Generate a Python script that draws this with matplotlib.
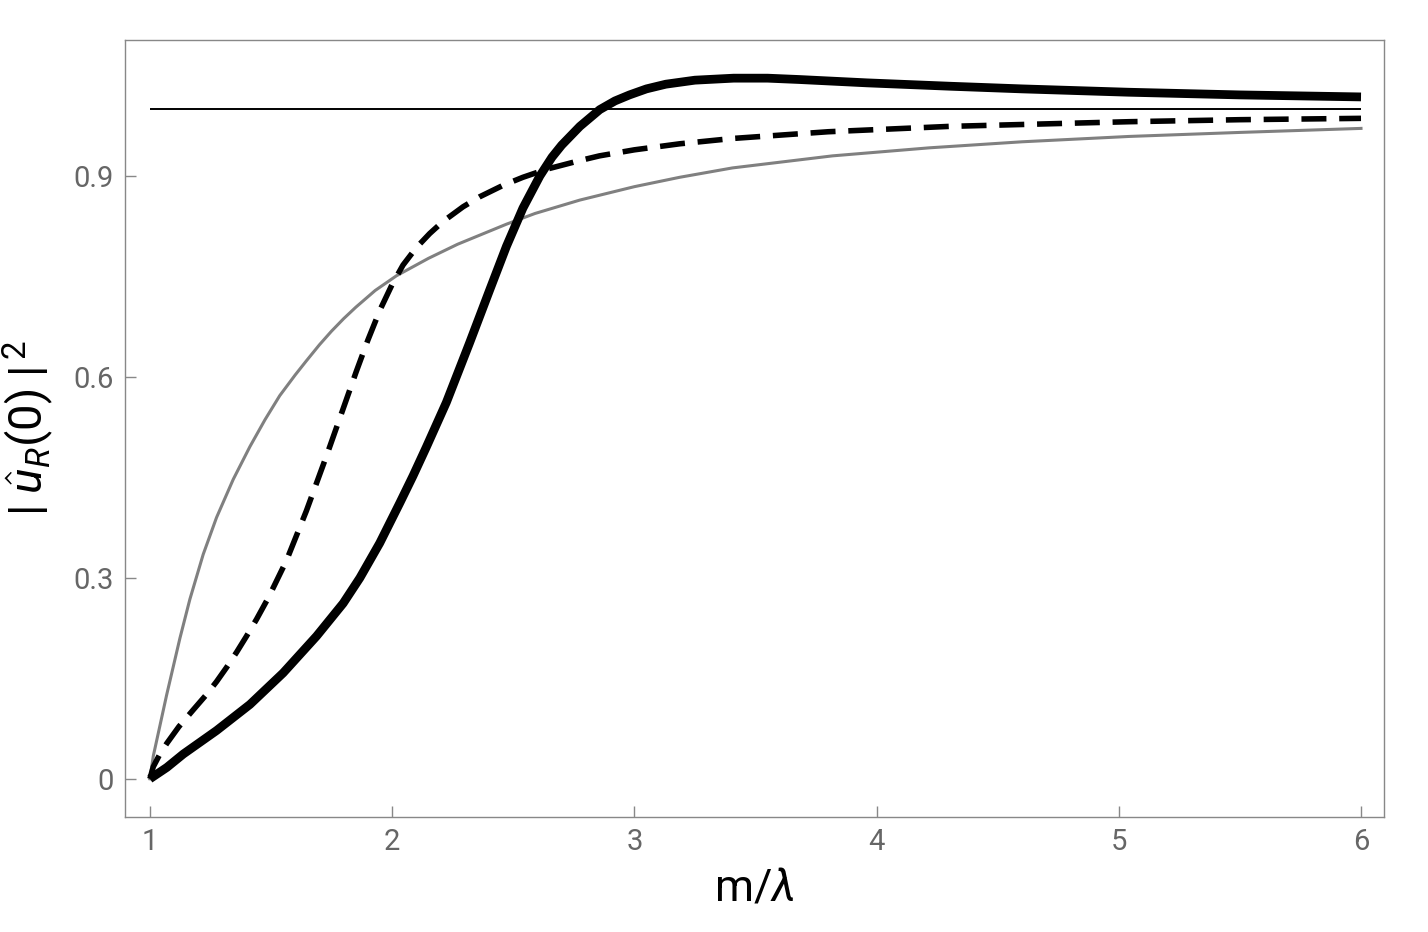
import matplotlib
matplotlib.use("Agg")
import matplotlib.pyplot as plt

# ---- data ----
gray_x = [1.0, 1.014, 1.069, 1.124, 1.165, 1.22, 1.275, 1.344, 1.413, 1.475, 1.536, 1.60, 1.646,
          1.70, 1.749, 1.80, 1.85, 1.93, 2.018, 2.15, 2.27, 2.472, 2.59, 2.775, 3.0, 3.187, 3.405,
          3.818, 4.218, 4.6, 5.043, 5.5, 6.0]
gray_y = [0.0, 0.034, 0.125, 0.210, 0.268, 0.335, 0.390, 0.447, 0.496, 0.536, 0.572, 0.603, 0.624,
          0.648, 0.668, 0.687, 0.704, 0.729, 0.751, 0.777, 0.798, 0.828, 0.844, 0.864, 0.884, 0.898, 0.912,
          0.930, 0.942, 0.951, 0.959, 0.965, 0.971]

dash_x = [1.0, 1.014, 1.04, 1.07, 1.12, 1.179, 1.234, 1.275, 1.316, 1.358, 1.399, 1.44, 1.49,
          1.564, 1.646, 1.729, 1.811, 1.852, 1.90, 1.95, 2.0, 2.045, 2.10, 2.155, 2.21, 2.293, 2.362,
          2.458, 2.54, 2.637, 2.775, 2.856, 3.0, 3.187, 3.407, 3.8, 4.3, 5.043, 5.5, 6.0]
dash_y = [0.0, 0.018, 0.036, 0.053, 0.078, 0.103, 0.126, 0.145, 0.166, 0.189, 0.213, 0.238, 0.271,
          0.326, 0.400, 0.482, 0.566, 0.608, 0.655, 0.700, 0.738, 0.767, 0.793, 0.814, 0.832, 0.854, 0.869,
          0.886, 0.898, 0.910, 0.923, 0.930, 0.939, 0.948, 0.956, 0.966, 0.974, 0.981, 0.984, 0.986]

thick_x = [1.0, 1.07, 1.138, 1.275, 1.413, 1.55, 1.688, 1.798, 1.867, 1.949, 2.032, 2.086, 2.141,
           2.224, 2.32, 2.403, 2.472, 2.54, 2.61, 2.66, 2.70, 2.775, 2.857, 2.92, 2.98, 3.05, 3.13,
           3.25, 3.41, 3.55, 3.68, 3.96, 4.3, 4.6, 5.04, 5.5, 6.0]
thick_y = [0.0, 0.017, 0.037, 0.072, 0.111, 0.158, 0.213, 0.262, 0.300, 0.352, 0.412, 0.452, 0.495,
           0.562, 0.651, 0.730, 0.795, 0.852, 0.900, 0.928, 0.946, 0.974, 0.999, 1.012, 1.021, 1.030, 1.037,
           1.043, 1.046, 1.046, 1.044, 1.039, 1.034, 1.030, 1.025, 1.021, 1.018]

ref_x = [1.0, 6.0]
ref_y = [1.0, 1.0]

x_ticks = [1, 2, 3, 4, 5, 6]
x_tick_labels = ["1", "2", "3", "4", "5", "6"]
y_ticks = [0, 0.3, 0.6, 0.9]
y_tick_labels = ["0", "0.3", "0.6", "0.9"]

# ---- figure ----
plt.rcParams['font.family'] = ['Roboto', 'DejaVu Sans']
plt.rcParams['mathtext.fontset'] = 'custom'
plt.rcParams['mathtext.rm'] = 'Roboto'
plt.rcParams['mathtext.it'] = 'Roboto:italic'

fig = plt.figure(figsize=(14.28, 9.32), dpi=100)
ax = fig.add_axes([0.0875, 0.1234, 0.9692 - 0.0875, 0.9571 - 0.1234])

ax.plot(ref_x, ref_y, color='black', lw=1.4, solid_capstyle='butt')
ax.plot(gray_x, gray_y, color='#808080', lw=2.2, solid_joinstyle='round')
ax.plot(dash_x, dash_y, color='black', lw=4.0, dashes=(4.5, 2.3), dash_capstyle='butt',
        dash_joinstyle='round')
ax.plot(thick_x, thick_y, color='black', lw=6.3, solid_capstyle='butt', solid_joinstyle='round')

ax.set_xlim(0.897, 6.095)
ax.set_ylim(-0.057, 1.103)

ax.set_xticks(x_ticks)
ax.set_xticklabels(x_tick_labels)
ax.set_yticks(y_ticks)
ax.set_yticklabels(y_tick_labels)

for s in ax.spines.values():
    s.set_color('#888888')
    s.set_linewidth(1.0)

ax.tick_params(axis='both', direction='in', length=8, width=1.0, color='#888888',
               labelcolor='#666666', labelsize=21, pad=8)

ax.set_xlabel(r'm/$\lambda$', fontsize=32, labelpad=8)
ax.set_ylabel(r'$|\;\hat{u}_R(0)\;|^{\,2}$', fontsize=34, labelpad=12)

fig.savefig('out.png', dpi=100)
